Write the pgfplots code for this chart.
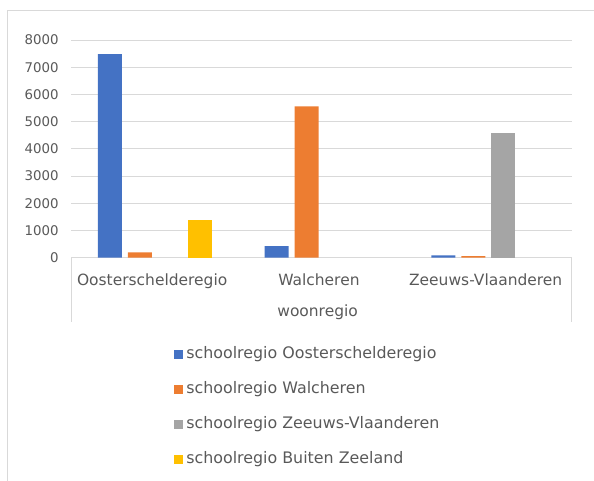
\documentclass[border=0pt]{standalone}
\usepackage{pgfplots}
\pgfplotsset{compat=1.18}
\usepackage{fontspec}
\setmainfont{DejaVu Sans}
\definecolor{cblue}{HTML}{4472C4}
\definecolor{corange}{HTML}{ED7D31}
\definecolor{cgray}{HTML}{A5A5A5}
\definecolor{cyellow}{HTML}{FFC000}
\definecolor{cgrid}{HTML}{D9D9D9}
\definecolor{ctext}{HTML}{595959}
\begin{document}
\begin{tikzpicture}
\path[use as bounding box] (0pt,0pt) rectangle (445.5pt,-360.75pt);
\draw[cgrid, line width=0.75pt] (5.25pt,-370pt) -- (5.25pt,-8.25pt) -- (450pt,-8.25pt);
\draw[cgrid, line width=0.75pt] (53.6pt,-193.3pt) -- (53.6pt,-241.3pt);
\draw[cgrid, line width=0.75pt] (428.8pt,-193.3pt) -- (428.8pt,-241.3pt);
\begin{axis}[
  at={(53.6pt,-193.3pt)}, anchor=south west,
  scale only axis, width=375.2pt, height=163.3pt,
  ybar=4.5pt, bar width=18pt,
  xmin=-0.5, xmax=2.5, ymin=0, ymax=8000,
  enlargelimits=false,
  xtick={0,1,2},
  xticklabels={Oosterschelderegio,Walcheren,Zeeuws-Vlaanderen},
  ytick={0,1000,...,8000},
  axis x line*=bottom, axis y line*=left,
  x axis line style={draw=cgrid, line width=0.75pt, -},
  y axis line style={draw=none},
  ymajorgrids, grid style={cgrid, line width=0.75pt},
  major tick length=0pt,
  scaled y ticks=false,
  /pgf/number format/1000 sep={},
  /pgf/number format/assume math mode=true,
  yticklabel style={anchor=east, inner sep=0pt, xshift=-9.5pt, font=\fontsize{10}{12}\selectfont, color=ctext},
  xticklabel style={anchor=base, inner sep=0pt, yshift=-20.5pt, xshift=-2pt, font=\fontsize{11.6}{13}\selectfont, color=ctext},
  xlabel={woonregio},
  xlabel style={at={(axis description cs:0.5,0)}, anchor=base, inner sep=0pt, yshift=-44.25pt, xshift=-3pt, font=\fontsize{11.6}{13}\selectfont, color=ctext},
  legend cell align=left,
  legend image code/.code={\fill[#1] (0pt,-3.4pt) rectangle (6.75pt,3.4pt);},
  legend style={at={(axis description cs:0.2056,-0.41)}, anchor=north west,
    draw=none, fill=none, inner sep=0pt, outer sep=0pt, row sep=15.25pt,
    font=\fontsize{11.9}{13}\selectfont, text=ctext,
    nodes={text height=8.5pt, text depth=2.5pt, inner sep=0pt, outer sep=0pt},
    /tikz/every odd column/.append style={column sep=2.25pt}},
]
\addplot[fill=cblue, draw=none] coordinates {(0,7480) (1,430) (2,90)};
\addplot[fill=corange, draw=none] coordinates {(0,200) (1,5560) (2,60)};
\addplot[fill=cgray, draw=none] coordinates {(2,4570)};
\addplot[fill=cyellow, draw=none] coordinates {(0,1400)};
\legend{schoolregio Oosterschelderegio, schoolregio Walcheren, schoolregio Zeeuws-Vlaanderen, schoolregio Buiten Zeeland}
\end{axis}
\end{tikzpicture}
\end{document}
